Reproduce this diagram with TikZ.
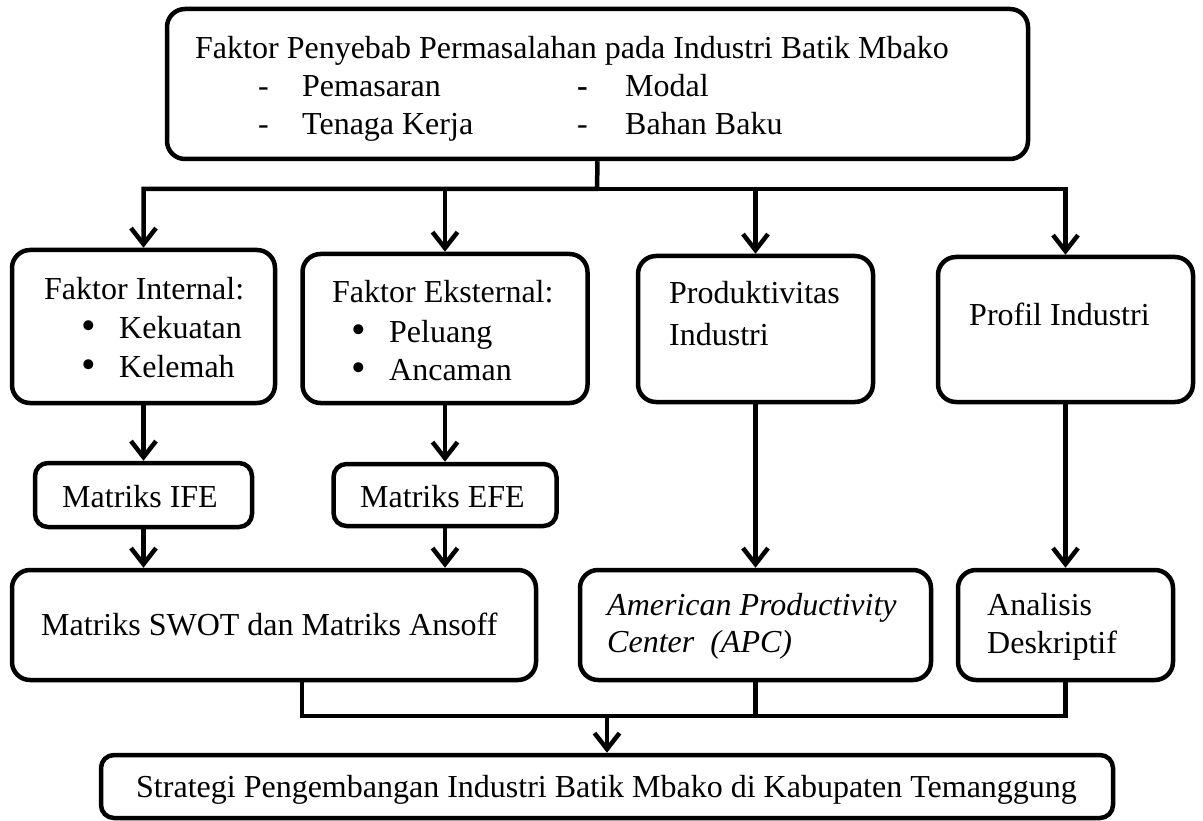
\documentclass[tikz,border=0pt]{standalone}
\usepackage{fontspec}
\usepackage{graphicx}
\setmainfont{Liberation Serif}
\usetikzlibrary{arrows.meta,calc}
\newcommand{\bigbul}{\scalebox{1.3}{\textbullet}}
\tikzset{
  box/.style={draw, line width=4.5pt, rounded corners=18pt, inner sep=0pt},
  sbox/.style={box, rounded corners=13pt},
  lbl/.style={anchor=base west, inner sep=0pt, font=\fontsize{32}{38}\selectfont},
  link/.style={line width=4.5pt},
  arr/.style={link, -{Straight Barb[length=16pt,width=25pt]}},
}
\begin{document}
\begin{tikzpicture}[x=1pt,y=-1pt]
\fill[white] (0,0) rectangle (1203,821);
% boxes
\node[box, minimum width=861pt, minimum height=150pt] (top) at (597.5,84) {};
\node[box, minimum width=263pt, minimum height=153pt] (fi) at (143.5,326.5) {};
\node[box, minimum width=285pt, minimum height=149pt] (fe) at (445,328.5) {};
\node[box, minimum width=235pt, minimum height=146pt] (prod) at (755.5,329) {};
\node[box, minimum width=255pt, minimum height=145pt] (prof) at (1065.5,329.5) {};
\node[sbox, minimum width=217pt, minimum height=64pt] (ife) at (143.5,495) {};
\node[sbox, minimum width=223pt, minimum height=62pt] (efe) at (445,495) {};
\node[box, minimum width=524pt, minimum height=110pt] (swot) at (274,625) {};
\node[box, minimum width=351pt, minimum height=110pt] (apc) at (755.5,625) {};
\node[box, minimum width=215pt, minimum height=110pt] (ana) at (1065.5,625) {};
\node[sbox, minimum width=1012pt, minimum height=63pt] (final) at (607,786.5) {};
% texts
\node[lbl] (t1) at (195,59) {Faktor Penyebab Permasalahan pada Industri Batik Mbako};
\node[lbl] (t2a) at (258,97) {-};
\node[lbl] (t2b) at (302,97) {Pemasaran};
\node[lbl] (t2c) at (577,97) {\textbf{-}};
\node[lbl] (t2d) at (625,97) {Modal};
\node[lbl] (t3a) at (258,135) {-};
\node[lbl] (t3b) at (302,135) {Tenaga Kerja};
\node[lbl] (t3c) at (577,135) {-};
\node[lbl] (t3d) at (625,135) {Bahan Baku};
\node[lbl] (fi1) at (44,300) {Faktor Internal:};
\node[lbl] (fi2b) at (81,339.5) {\bigbul};
\node[lbl] (fi2) at (119,338) {Kekuatan};
\node[lbl] (fi3b) at (81,378.5) {\bigbul};
\node[lbl] (fi3) at (119,377) {Kelemah};
\node[lbl] (fe1) at (332,303) {Faktor Eksternal:};
\node[lbl] (fe2b) at (351,343.5) {\bigbul};
\node[lbl] (fe2) at (389,342) {Peluang};
\node[lbl] (fe3b) at (351,381.5) {\bigbul};
\node[lbl] (fe3) at (389,380) {Ancaman};
\node[lbl] (pr1) at (669,304) {Produktivitas};
\node[lbl] (pr2) at (669,345) {Industri};
\node[lbl] (pf1) at (969,326) {Profil Industri};
\node[lbl] (ife1) at (62,507) {Matriks IFE};
\node[lbl] (efe1) at (360,507) {Matriks EFE};
\node[lbl] (sw1) at (41,635) {Matriks SWOT dan Matriks Ansoff};
\node[lbl] (apc1) at (607,615) {\itshape American Productivity};
\node[lbl] (apc2) at (607,652) {\itshape Center\ \ (APC)};
\node[lbl] (an1) at (987,615) {Analisis};
\node[lbl] (an2) at (987,653) {Deskriptif};
\node[lbl] (fin1) at (136,797) {Strategi Pengembangan Industri Batik Mbako di Kabupaten Temanggung};
% connectors
\coordinate (bus) at (597,189);
\coordinate (busB) at (605,716);
\draw[arr] (top.south) -- (bus) -| (fi.north);
\draw[arr] (bus) -| (prof.north);
\draw[arr] (fe.north |- bus) -- (fe.north);
\draw[arr] (prod.north |- bus) -- (prod.north);
\draw[arr] (fi.south) -- (ife.north);
\draw[arr] (fe.south) -- (efe.north);
\draw[arr] (ife.south) -- (ife.south |- swot.north);
\draw[arr] (efe.south) -- (efe.south |- swot.north);
\draw[arr] (prod.south) -- (apc.north);
\draw[arr] (prof.south) -- (ana.north);
\draw[link] ([xshift=28pt]swot.south) |- (ana.south |- busB) -- (ana.south);
\draw[link] (apc.south) -- (apc.south |- busB);
\draw[arr] (final.north |- busB) -- (final.north);
\end{tikzpicture}
\end{document}
